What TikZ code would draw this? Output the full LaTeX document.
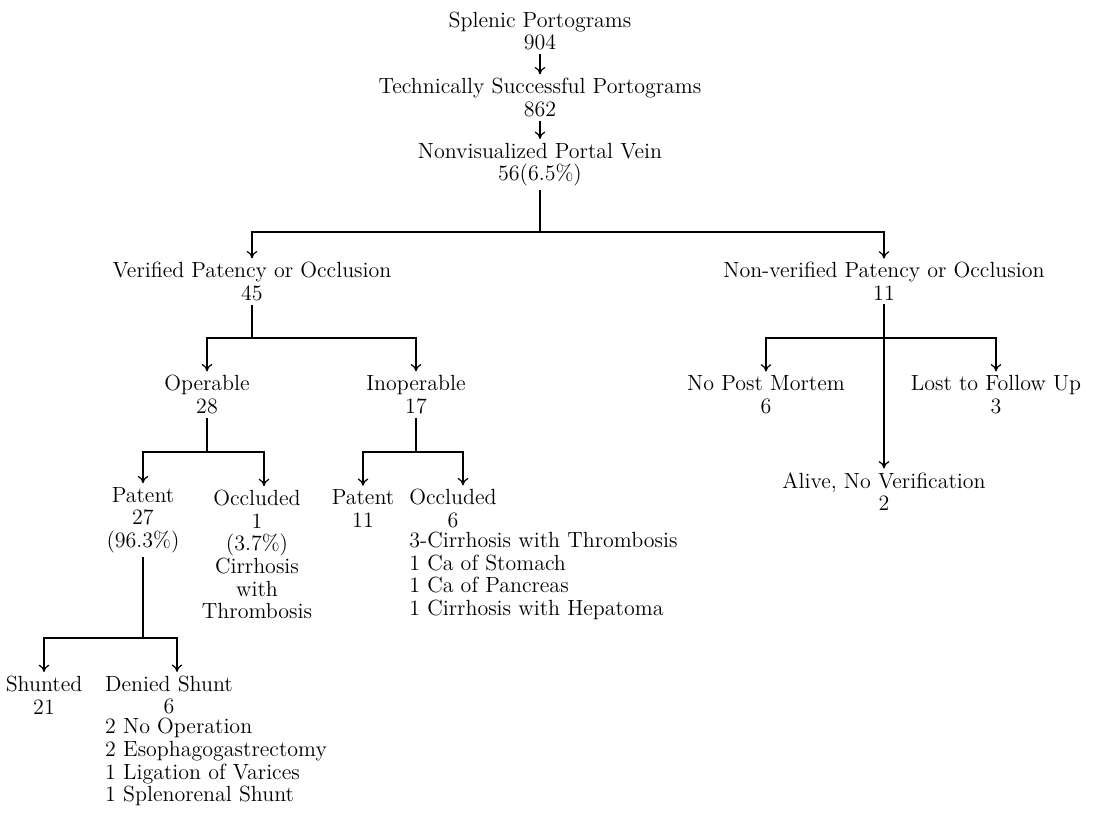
\documentclass[tikz,border=0pt]{standalone}
\usepackage{tikz}
\usetikzlibrary{arrows.meta, positioning}
\tikzset{
  lbl/.style={align=center, inner sep=2pt, font=\fontsize{12.5}{12.9}\selectfont},
  lst/.style={align=left, inner sep=2pt, font=\fontsize{12.5}{12.9}\selectfont},
  arrow/.style={-{To[length=4.2pt,width=6pt]}, line width=0.7pt},
  line/.style={line width=0.7pt}
}
\begin{document}
\begin{tikzpicture}[x=0.02cm, y=-0.02cm]
  \useasboundingbox (0,0) rectangle (1093,817);

  % Top chain
  \node[lbl] (splenic) at (540,31) {Splenic Portograms\\904};
  \node[lbl] (techn) at (540,97.5) {Technically Successful Portograms\\862};
  \node[lbl] (nonvis) at (540,164.5) {Nonvisualized Portal Vein\\56(6.5\%)};
  \draw[arrow] (splenic) -- (techn);
  \draw[arrow] (techn) -- (nonvis);

  % First split
  \coordinate (j0) at (540,232);
  \node[lbl] (verif) at (252,281.5) {Verified Patency or Occlusion\\45};
  \node[lbl] (nonverif) at (884,281.5) {Non-verified Patency or Occlusion\\11};
  \draw[line] (nonvis) -- (j0);
  \draw[arrow] (j0) -| (verif);
  \draw[arrow] (j0) -| (nonverif);

  % Verified branch
  \coordinate (j1) at (252,338);
  \node[lbl] (operable) at (207,394.5) {Operable\\28};
  \node[lbl] (inoperable) at (416,394.5) {Inoperable\\17};
  \draw[line] (verif) -- (j1);
  \draw[arrow] (j1) -| (operable);
  \draw[arrow] (j1) -| (inoperable);

  % Operable
  \coordinate (j2) at (207,452);
  \node[lbl] (opPatent) at (143,520) {Patent\\27\\(96.3\%)};
  \node[lbl] (opOccl) at (257,554.5) {Occluded\\1\\(3.7\%)\\Cirrhosis\\with\\Thrombosis};
  \draw[line] (operable) -- (j2);
  \draw[arrow] (j2) -| (opPatent);
  \draw[arrow] (j2) -| ([xshift=0.14cm]opOccl.north);

  % Inoperable
  \coordinate (j3) at (416,452);
  \node[lbl] (inPatent) at (363,508.5) {Patent\\11};
  \node[lbl] (inOccl) at (453,508.5) {Occluded\\6};
  \node[lst, anchor=north west, inner ysep=0pt] (inOcclList) at (inOccl.south west) {3-Cirrhosis with Thrombosis\\1 Ca of Stomach\\1 Ca of Pancreas\\1 Cirrhosis with Hepatoma};
  \draw[line] (inoperable) -- (j3);
  \draw[arrow] (j3) -| (inPatent);
  \draw[arrow] (j3) -| ([xshift=0.2cm]inOccl.north);

  % Patent (operable)
  \coordinate (j4) at (143,638);
  \node[lbl] (shunted) at (44,695) {Shunted\\21};
  \node[lbl] (denied) at (169,695) {Denied Shunt\\6};
  \node[lst, anchor=north west, inner ysep=0pt] (deniedList) at (denied.south west) {2 No Operation\\2 Esophagogastrectomy\\1 Ligation of Varices\\1 Splenorenal Shunt};
  \draw[line] (opPatent) -- (j4);
  \draw[arrow] (j4) -| (shunted);
  \draw[arrow] (j4) -| ([xshift=0.16cm]denied.north);

  % Non-verified branch
  \coordinate (j5) at (884,338);
  \node[lbl] (nopm) at (766,394.5) {No Post Mortem\\6};
  \node[lbl] (lost) at (996,394.5) {Lost to Follow Up\\3};
  \node[lbl] (alive) at (884,491.5) {Alive, No Verification\\2};
  \draw[line] (nonverif) -- (j5);
  \draw[arrow] (j5) -| (nopm);
  \draw[arrow] (j5) -| (lost);
  \draw[arrow] (j5) -- (alive);
\end{tikzpicture}
\end{document}
